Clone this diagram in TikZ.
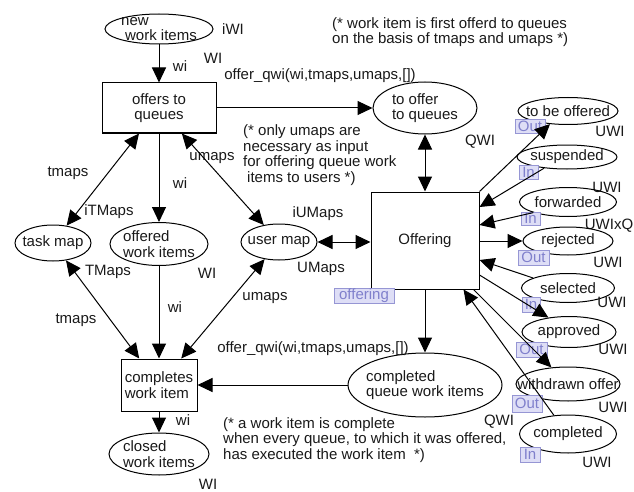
\documentclass[tikz,border=0pt]{standalone}
\usepackage{fontspec}
\setmainfont{Liberation Sans}
\usetikzlibrary{arrows.meta,shapes.geometric}
\definecolor{tagfill}{RGB}{222,222,246}
\definecolor{tagline}{RGB}{150,150,212}
\definecolor{tagtext}{RGB}{128,128,204}
\definecolor{ink}{RGB}{25,25,25}
\begin{document}
\begin{tikzpicture}[x=1pt,y=-1pt,
  every node/.style={font=\fontsize{15}{15.5}\selectfont, text=ink},
  place/.style={ellipse, draw, line width=1pt, inner sep=0pt},
  ptext/.style={align=left, inner sep=0pt},
  trans/.style={rectangle, draw, line width=1pt, inner sep=1pt},
  lbl/.style={inner sep=0pt},
  port/.style={rectangle, draw=tagline, fill=tagfill, text=tagtext, inner sep=0pt, line width=0.7pt},
  tip/.style={Triangle[length=15pt,width=14pt]},
  arc/.style={line width=1pt, -{Triangle[length=15pt,width=14pt]}},
  biarc/.style={line width=1pt, {Triangle[length=15pt,width=14pt]}-{Triangle[length=15pt,width=14pt]}},
]
\useasboundingbox (0,0) rectangle (634,492);

% ---- left part of the net ----
\node[place, minimum width=108pt, minimum height=30pt,
      label={[ptext]center:{new\\\hspace{4pt}work items}}] (nwi) at (159,29) {};
\node[lbl] (nwiT) at (233,29) {iWI};
\node[lbl] (nwiW) at (213,58) {WI};
\node[lbl] (nwiA) at (180,66) {wi};

\node[trans, minimum width=114pt, minimum height=50pt, align=center] (otq) at (159,108) {offers to\\queues};
\node[lbl] (oqA) at (320,76) {offer\_qwi(wi,tmaps,umaps,[])};

\node[place, minimum width=104pt, minimum height=52pt,
      label={[ptext]center:{to offer\\to queues}}] (toq) at (425,108) {};

\node[lbl, anchor=west, align=left] (note1) at (332,32)
  {(* work item is first offerd to queues\\on the basis of tmaps and umaps *)};
\node[lbl, anchor=west, align=left] (note2) at (243,155)
  {(* only umaps are\\necessary as input\\for offering queue work\\\hspace{4pt}items to users *)};
\node[lbl] (qwiA) at (480,142) {QWI};

\node[trans, minimum width=108pt, minimum height=97pt] (off) at (425,240.5) {Offering};
\node[port, minimum width=60pt, minimum height=15pt] (offtag) at (364,295.5) {offering};

\node[place, minimum width=76pt, minimum height=36pt,
      label={[ptext]center:{task map}}] (tm) at (53,243) {};
\node[place, minimum width=98pt, minimum height=43pt,
      label={[ptext]center:{offered\\work items}}] (ow) at (159,244) {};
\node[place, minimum width=76pt, minimum height=36pt,
      label={[ptext]center:{user map}}] (um) at (279,242) {};

\node[lbl] (tmI) at (109,212) {iTMaps};
\node[lbl] (tmT) at (108,272) {TMaps};
\node[lbl] (tmA1) at (68,173) {tmaps};
\node[lbl] (tmA2) at (76,320) {tmaps};
\node[lbl] (owA1) at (180,183) {wi};
\node[lbl] (owA2) at (175,307) {wi};
\node[lbl] (owT) at (207,273) {WI};
\node[lbl] (umA1) at (212,158) {umaps};
\node[lbl] (umA2) at (265,298) {umaps};
\node[lbl] (umI) at (318,214) {iUMaps};
\node[lbl] (umT) at (321,269) {UMaps};

\node[trans, minimum width=76pt, minimum height=52pt, align=left] (cwi) at (159,385) {completes\\work item};
\node[place, minimum width=154pt, minimum height=64pt,
      label={[ptext]center:{completed\\queue work items}}] (cq) at (425,385) {};
\node[lbl] (cqA) at (313,349) {offer\_qwi(wi,tmaps,umaps,[])};
\node[lbl] (cqT) at (499,422) {QWI};
\node[lbl] (clA) at (183,420) {wi};
\node[place, minimum width=100pt, minimum height=42pt,
      label={[ptext]center:{closed\\work items}}] (cl) at (159,454) {};
\node[lbl] (clT) at (208,484) {WI};
\node[lbl, anchor=west, align=left] (note3) at (223,440)
  {(* a work item is complete\\when every queue, to which it was offered,\\has executed the work item\ \ *)};

% ---- interface places of the Offering subpage ----
\node[place, minimum width=100pt, minimum height=27pt, label={[ptext]center:{to be offered}}] (tbo) at (568,111) {};
\node[port, minimum width=30pt, minimum height=14pt] (tboP) at (530,126) {Out};
\node[lbl] (tboT) at (610,131) {UWI};

\node[place, minimum width=100pt, minimum height=24pt, label={[ptext]center:{suspended}}] (susp) at (567,157) {};
\node[port, minimum width=19pt, minimum height=14pt] (suspP) at (528.5,172) {In};
\node[lbl] (suspT) at (607,187) {UWI};

\node[place, minimum width=97pt, minimum height=29pt, label={[ptext]center:{forwarded}}] (fwd) at (568,202) {};
\node[port, minimum width=19pt, minimum height=13pt] (fwdP) at (530.5,218.5) {In};
\node[lbl] (fwdT) at (609,226) {UWIxQ};

\node[place, minimum width=90pt, minimum height=28pt, label={[ptext]center:{rejected}}] (rej) at (568,241) {};
\node[port, minimum width=31pt, minimum height=15pt] (rejP) at (533.5,257.5) {Out};
\node[lbl] (rejT) at (608,262) {UWI};

\node[place, minimum width=93pt, minimum height=29pt, label={[ptext]center:{selected}}] (sel) at (568,288) {};
\node[port, minimum width=18pt, minimum height=15pt] (selP) at (531,304.5) {In};
\node[lbl] (selT) at (612,302) {UWI};

\node[place, minimum width=94pt, minimum height=31pt, label={[ptext]center:{approved}}] (appr) at (569,332) {};
\node[port, minimum width=31pt, minimum height=15pt] (apprP) at (531.5,349.5) {Out};
\node[lbl] (apprT) at (613,349) {UWI};

\node[place, minimum width=104pt, minimum height=34pt, label={[ptext]center:{withdrawn offer}}] (wdo) at (568,384) {};
\node[port, minimum width=30pt, minimum height=17pt] (wdoP) at (527,403.5) {Out};
\node[lbl] (wdoT) at (613,407) {UWI};

\node[place, minimum width=97pt, minimum height=38pt, label={[ptext]center:{completed}}] (comp) at (568,434) {};
\node[port, minimum width=20pt, minimum height=15pt] (compP) at (530,454.5) {In};
\node[lbl] (compT) at (597,462) {UWI};

% ---- arcs ----
\draw[arc] (nwi.south) -- (nwi.south |- otq.north);
\draw[arc] (otq.east) -- (otq.east -| toq.west);
\draw[biarc] (toq) -- (off);
\draw[biarc] (otq) -- (tm);
\draw[arc] (otq) -- (ow);
\draw[biarc] (otq) -- (um);
\draw[biarc] (tm) -- (cwi);
\draw[arc] (ow) -- (cwi);
\draw[biarc] (um) -- (cwi);
\draw[biarc] (um) -- (um -| off.west);
\draw[arc] (off) -- (cq);
\draw[arc] (cq) -- (cwi);
\draw[arc] (cwi) -- (cl);

\draw[arc] (off.north east) -- (tbo.216);
\draw[arc] (susp.206) -- ([yshift=33.5pt]off.east);
\draw[arc] (fwd.197) -- ([yshift=15.5pt]off.east);
\draw[arc] (rej.west -| off.east) -- (rej.west);
\draw[arc] (sel.164) -- ([yshift=-19.5pt]off.east);
\draw[arc] ([yshift=-34.5pt]off.east) -- (appr.145);
\draw[arc] ([xshift=-6pt]off.south east) -- (wdo.135);
\draw[arc] (comp.127) -- ([xshift=-16pt]off.south east);
\end{tikzpicture}
\end{document}
